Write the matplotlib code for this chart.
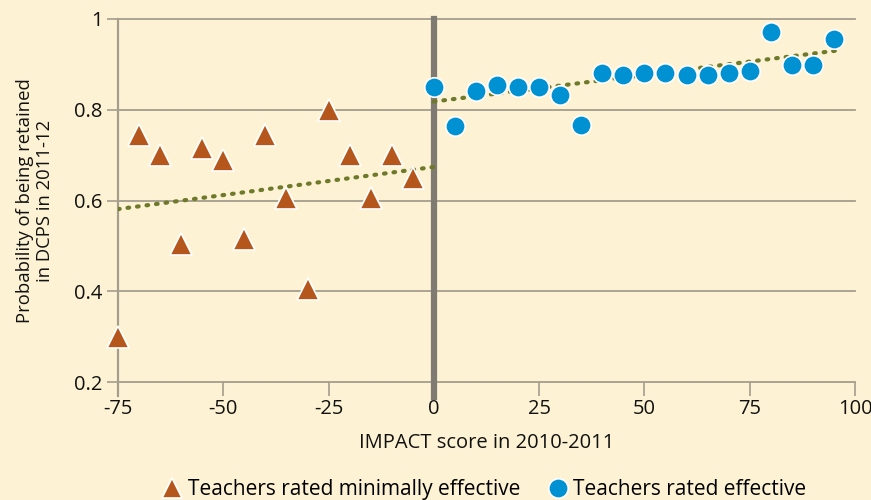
import matplotlib
matplotlib.use("Agg")
import matplotlib.pyplot as plt
from matplotlib.lines import Line2D

# --- data ---
min_x = [-75, -70, -65, -60, -55, -50, -45, -40, -35, -30, -25, -20, -15, -10, -5]
min_y = [0.30, 0.745, 0.70, 0.505, 0.715, 0.69, 0.515, 0.745, 0.605, 0.405, 0.80, 0.70, 0.605, 0.70, 0.65]

eff_x = [0, 5, 10, 15, 20, 25, 30, 35, 40, 45, 50, 55, 60, 65, 70, 75, 80, 85, 90, 95]
eff_y = [0.85, 0.765, 0.842, 0.855, 0.851, 0.851, 0.832, 0.767, 0.882, 0.877, 0.882, 0.882,
         0.877, 0.876, 0.882, 0.886, 0.972, 0.898, 0.898, 0.957]

trend_min_x = [-75, 0]
trend_min_y = [0.581, 0.674]
trend_eff_x = [0, 97]
trend_eff_y = [0.818, 0.932]

x_ticks = [-75, -50, -25, 0, 25, 50, 75, 100]
y_ticks = [0.2, 0.4, 0.6, 0.8, 1.0]
y_tick_labels = ["0.2", "0.4", "0.6", "0.8", "1"]

BG = "#FDF3D4"
ORANGE = "#B5561C"
BLUE = "#0091D2"
OLIVE = "#6E7A2A"
GRID = "#A59D8E"
ZERO = "#7F7B72"
TXT = "#111111"

plt.rcParams['font.family'] = ['Open Sans', 'DejaVu Sans']

fig = plt.figure(figsize=(8.71, 5.0), dpi=100, facecolor=BG)
ax = fig.add_axes([118/871, 1-382/500, (855-118)/871, (382-19)/500])
ax.set_facecolor(BG)

ax.set_xlim(-75, 100)
ax.set_ylim(0.2, 1.0)

for s in ax.spines.values():
    s.set_visible(False)

# horizontal gridlines
for yv in y_ticks:
    ax.axhline(yv, color=GRID, lw=1.3, zorder=1, clip_on=False)

# left vertical line at -75 and zero line (extend slightly below axis)
ax.plot([-75, -75], [0.2 - 0.03, 1.0], color=GRID, lw=1.6, zorder=1, clip_on=False)
ax.plot([0, 0], [0.2 - 0.033, 1.0], color=ZERO, lw=4.5, zorder=2, clip_on=False)

# trend lines
ax.plot(trend_min_x, trend_min_y, color=OLIVE, lw=3, ls=(0, (0.4, 1.9)),
        dash_capstyle='round', zorder=3)
ax.plot(trend_eff_x, trend_eff_y, color=OLIVE, lw=3, ls=(0, (0.4, 1.9)),
        dash_capstyle='round', zorder=3)

# markers
ax.plot(min_x, min_y, ls='none', marker='^', ms=15.5, mfc=ORANGE, mec='white',
        mew=1.2, zorder=4, clip_on=False)
ax.plot(eff_x, eff_y, ls='none', marker='o', ms=14, mfc=BLUE, mec='white',
        mew=1.2, zorder=4, clip_on=False)

ax.set_xticks(x_ticks)
ax.set_xticklabels([str(v) for v in x_ticks])
ax.set_yticks(y_ticks)
ax.set_yticklabels(y_tick_labels)
ax.tick_params(axis='x', length=10, width=1.2, color=GRID, labelsize=14.5, pad=2.5,
               labelcolor=TXT)
ax.tick_params(axis='y', length=8, width=1.2, color=GRID, labelsize=14.5, pad=3,
               labelcolor=TXT)

ax.set_xlabel("IMPACT score in 2010-2011", fontsize=14.5, color=TXT, labelpad=10)
ax.set_ylabel("Probability of being retained\nin DCPS in 2011-12", fontsize=13.3,
              color=TXT, labelpad=15, linespacing=1.12)

handles = [
    Line2D([], [], ls='none', marker='^', ms=15, mfc=ORANGE, mec='white', mew=1.2),
    Line2D([], [], ls='none', marker='o', ms=14, mfc=BLUE, mec='white', mew=1.2),
]
labels = ["Teachers rated minimally effective", "Teachers rated effective"]
fig.legend(handles, labels, loc='lower center', bbox_to_anchor=(0.556, -0.038), ncol=2,
           frameon=False, fontsize=15, handletextpad=0.25, columnspacing=1.3,
           handlelength=1.0)

fig.savefig("out.png", dpi=100, facecolor=BG)
